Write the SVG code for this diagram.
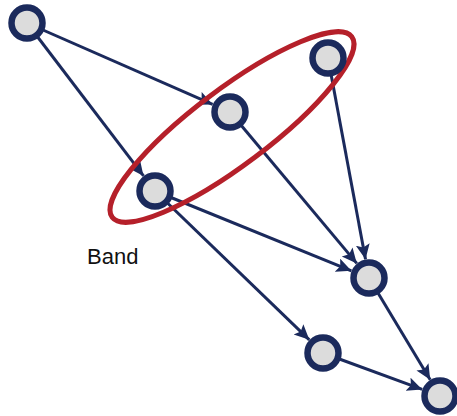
<svg xmlns="http://www.w3.org/2000/svg" width="457" height="416" viewBox="0 0 457 416">
<defs>
<marker id="arr" markerUnits="userSpaceOnUse" markerWidth="17" markerHeight="15" refX="15" refY="7" orient="auto">
<path d="M0,0 L15,7 L0,14 L3,7 z" fill="#1b2a5c"/>
</marker>
<style>
.edge{stroke:#1b2a5c;stroke-width:3;fill:none;marker-end:url(#arr)}
.node{fill:#dcdcdc;stroke:#1b2a5c;stroke-width:6.5}
.band{fill:none;stroke:#b5202a;stroke-width:5}
.lbl{font-family:"Liberation Sans",Arial,sans-serif;font-size:22px;fill:#111}
</style>
</defs>
<rect width="457" height="416" fill="#fff"/>
<g id="connectors">
<line class="edge" x1="27" y1="23" x2="212.6" y2="104.4"/>
<line class="edge" x1="27" y1="23" x2="143.5" y2="175.9"/>
<line class="edge" x1="328" y1="58" x2="365.5" y2="259.3"/>
<line class="edge" x1="230" y1="112" x2="356.8" y2="263.4"/>
<line class="edge" x1="155" y1="191" x2="351.4" y2="270.8"/>
<line class="edge" x1="155" y1="191" x2="309.3" y2="339.8"/>
<line class="edge" x1="323" y1="353" x2="422.2" y2="389.4"/>
<line class="edge" x1="369" y1="278" x2="430.2" y2="379.7"/>
</g>
<g id="band">
<ellipse class="band" cx="232" cy="127" rx="150" ry="38" transform="rotate(-37 232 127)"/>
<text class="lbl" x="87" y="264">Band</text>
</g>
<g id="nA"><circle class="node" cx="27" cy="23" r="15.5"/></g>
<g id="nB"><circle class="node" cx="230" cy="112" r="15.5"/></g>
<g id="nC"><circle class="node" cx="328" cy="58" r="15.5"/></g>
<g id="nD"><circle class="node" cx="155" cy="191" r="15.5"/></g>
<g id="nE"><circle class="node" cx="369" cy="278" r="15.5"/></g>
<g id="nF"><circle class="node" cx="323" cy="353" r="15.5"/></g>
<g id="nG"><circle class="node" cx="440" cy="396" r="15.5"/></g>
</svg>
